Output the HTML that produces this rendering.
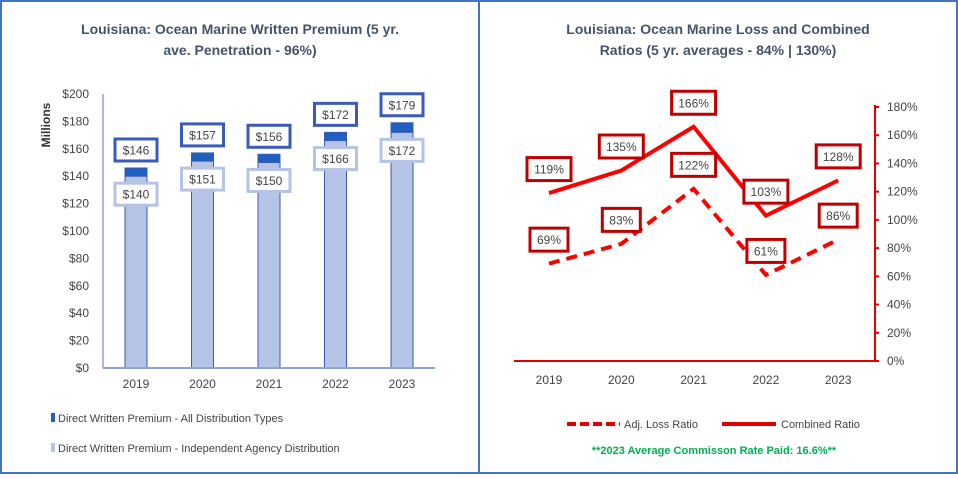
<!DOCTYPE html>
<html><head><meta charset="utf-8"><style>
body{margin:0;background:#fff;font-family:"Liberation Sans",sans-serif}
svg text{font-family:"Liberation Sans",sans-serif}
</style></head><body>
<svg id="c" width="958" height="474" xmlns="http://www.w3.org/2000/svg">
<rect x="1" y="1" width="956" height="472" fill="#fff" stroke="#4472C4" stroke-width="2"/>
<line x1="479" y1="0" x2="479" y2="474" stroke="#4472C4" stroke-width="2"/>
<g font-weight="bold" font-size="14" fill="#44546A" text-anchor="middle">
<text x="240" y="34">Louisiana: Ocean Marine Written Premium (5 yr.</text>
<text x="240" y="55">ave. Penetration - 96%)</text>
<text x="718" y="34">Louisiana: Ocean Marine Loss and Combined</text>
<text x="718" y="55">Ratios (5 yr. averages - 84% | 130%)</text>
</g>
<text transform="translate(50,125) rotate(-90)" text-anchor="middle" font-size="12" font-weight="bold" fill="#333">Millions</text>
<g id="left"></g><g id="right"></g>
<rect x="51" y="413" width="4" height="9" fill="#1F5FBF"/>
<text x="58" y="422" font-size="11" fill="#444">Direct Written Premium - All Distribution Types</text>
<rect x="51" y="443" width="4" height="9" fill="#B4C3E6"/>
<text x="58" y="452" font-size="11" fill="#444">Direct Written Premium - Independent Agency Distribution</text>
<line x1="567" y1="424" x2="620" y2="424" stroke="#E00000" stroke-width="4" stroke-dasharray="9,4"/>
<text x="624" y="428" font-size="11" fill="#444">Adj. Loss Ratio</text>
<line x1="722" y1="424" x2="776" y2="424" stroke="#E00000" stroke-width="4"/>
<text x="781" y="428" font-size="11" fill="#444">Combined Ratio</text>
<text x="714" y="454" text-anchor="middle" font-size="11" font-weight="bold" fill="#00B050">**2023 Average Commisson Rate Paid: 16.6%**</text>
</svg>
<script>
const years=["2019","2020","2021","2022","2023"];
const allPremium=[146,157,156,172,179];
const indPremium=[140,151,150,166,172];
const premTicks=[0,20,40,60,80,100,120,140,160,180,200];
const lossRatio=[69,83,122,61,86];
const combinedRatio=[119,135,166,103,128];
const pctTicks=[0,20,40,60,80,100,120,140,160,180];
const NS="http://www.w3.org/2000/svg";
function mk(p,t,a,txt){const e=document.createElementNS(NS,t);for(const k in a)e.setAttribute(k,a[k]);if(txt!==undefined)e.textContent=txt;p.appendChild(e);return e;}
const L=document.getElementById('left'),R=document.getElementById('right');
// left axes
const ly=v=>368-v*(274/200);
const lx=i=>136+i*66.5;
premTicks.forEach(t=>{const e=mk(L,'text',{x:89,y:ly(t)+4,'text-anchor':'end','font-size':12,fill:'#444'},'$'+t);

});
let a=mk(L,'line',{x1:103,y1:94,x2:103,y2:368,stroke:'#8EA4D8','stroke-width':1.5});


years.forEach((y,i)=>{
const x=lx(i);
let b=mk(L,'rect',{x:x-11,y:ly(allPremium[i]),width:22,height:368-ly(allPremium[i]),fill:'#1F5FBF',stroke:'#3A5BB8','stroke-width':1});


b=mk(L,'rect',{x:x-11,y:ly(indPremium[i]),width:22,height:368-ly(indPremium[i]),fill:'#B4C3E6',stroke:'#3A5BB8','stroke-width':1});


let t=mk(L,'text',{x:x,y:388,'text-anchor':'middle','font-size':12,fill:'#444'},y);


});
a=mk(L,'line',{x1:103,y1:368,x2:435,y2:368,stroke:'#8EA4D8','stroke-width':2});


years.forEach((y,i)=>{
const x=lx(i);
[[allPremium[i],-18,'#3A5BB8','label-all-'],[indPremium[i],18,'#B4C3E6','label-independent-']].forEach(([v,off,col,nm])=>{
const cy=ly(v)+off;
const r=mk(L,'rect',{x:x-21,y:cy-11,width:42,height:22,fill:'#fff',stroke:col,'stroke-width':3});


const tx=mk(L,'text',{x:x,y:cy+4.5,'text-anchor':'middle','font-size':12,fill:'#444'},'$'+v);


});
});
// right
const ry=v=>361-v*(254/180);
const rx=i=>549+i*72.3;
pctTicks.forEach(t=>{
const tk=mk(R,'line',{x1:875,y1:ry(t),x2:879,y2:ry(t),stroke:'#E00000','stroke-width':2});


const e=mk(R,'text',{x:887,y:ry(t)+4,'font-size':12,fill:'#444'},t+'%');

});
a=mk(R,'line',{x1:875,y1:105,x2:875,y2:361,stroke:'#E00000','stroke-width':2});


a=mk(R,'line',{x1:514,y1:361,x2:876,y2:361,stroke:'#E00000','stroke-width':2});


years.forEach((y,i)=>{let t=mk(R,'text',{x:rx(i),y:384,'text-anchor':'middle','font-size':12,fill:'#444'},y);

});
let p=mk(R,'polyline',{points:combinedRatio.map((v,i)=>rx(i)+','+ry(v)).join(' '),fill:'none',stroke:'#FF0000','stroke-width':4});


p=mk(R,'polyline',{points:lossRatio.map((v,i)=>rx(i)+','+ry(v)).join(' '),fill:'none',stroke:'#FF0000','stroke-width':4,'stroke-dasharray':'11,7'});


years.forEach((y,i)=>{
[[combinedRatio[i],'label-combined-'],[lossRatio[i],'label-loss-']].forEach(([v,nm])=>{
const x=rx(i),cy=ry(v)-24;const w=v>=100?44:38;
const r=mk(R,'rect',{x:x-w/2,y:cy-11.5,width:w,height:23,fill:'#fff',stroke:'#C00000','stroke-width':3});


const tx=mk(R,'text',{x:x,y:cy+4.5,'text-anchor':'middle','font-size':12,fill:'#444'},v+'%');


});
});
</script>
</body></html>
